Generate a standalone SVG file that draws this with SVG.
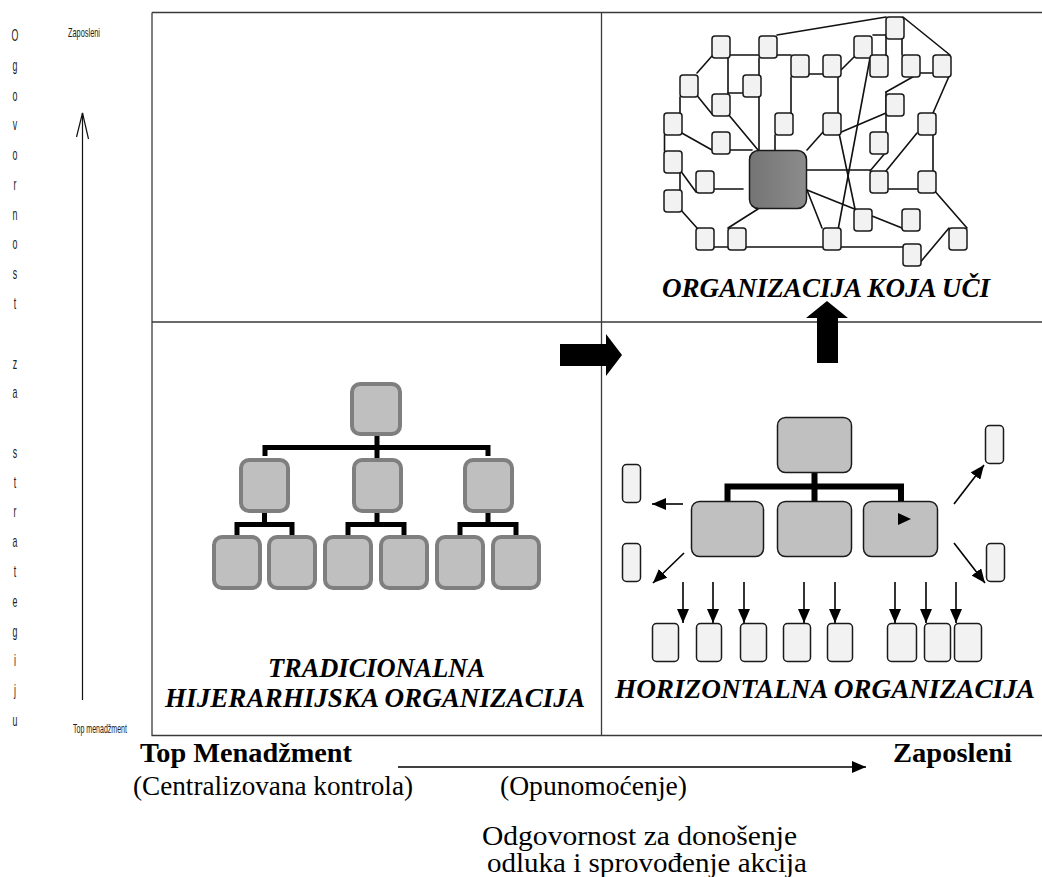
<svg xmlns="http://www.w3.org/2000/svg" width="1042" height="877" viewBox="0 0 1042 877">
  <defs>
    <marker id="ah" viewBox="0 0 10 10" refX="10" refY="5" markerWidth="14" markerHeight="12" preserveAspectRatio="none" markerUnits="userSpaceOnUse" orient="auto">
      <path d="M0,0 L10,5 L0,10 z" fill="#000"/>
    </marker>
    <linearGradient id="hubFill" x1="0" y1="0" x2="1" y2="0">
      <stop offset="0" stop-color="#747474"/>
      <stop offset="1" stop-color="#8c8c8c"/>
    </linearGradient>
    <style>
      .frame{fill:none;stroke:#3a3a3a;stroke-width:1.3}
      .net line{stroke:#111;stroke-width:1.6;stroke-linecap:round}
      .sn{fill:#f2f2f2;stroke:#1a1a1a;stroke-width:1.5}
      .hn{fill:#bfbfbf;stroke:#7f7f7f;stroke-width:4}
      .on{fill:#c0c0c0;stroke:#1a1a1a;stroke-width:1.5}
      .bracket{fill:none;stroke:#000;stroke-linejoin:miter}
      .arr{stroke:#000;stroke-width:1.6;fill:none}
      .title{font-family:"Liberation Serif","Times New Roman",serif;font-weight:bold;font-style:italic;font-size:27px;fill:#000}
      .axis{font-family:"Liberation Sans",Arial,sans-serif;fill:#222}
      .cap{font-family:"Liberation Serif","Times New Roman",serif;fill:#000;font-size:27px}
      .capb{font-weight:bold}
    </style>
  </defs>

  <rect width="1042" height="877" fill="#fff"/>

  <!-- quadrant frame -->
  <g id="frame" class="frame">
    <path d="M152,12.5 H1042 M152,12.5 V735.5 H1042 M152,322 H1042 M601.5,12.5 V735.5"/>
  </g>

  <!-- vertical axis -->
  <g id="axis-vertical">
    <g class="axis" font-size="16" text-anchor="middle" transform="translate(15,0) scale(0.55,1)">
      <text x="0" y="41">O</text>
      <text x="0" y="70.8">g</text>
      <text x="0" y="100.6">o</text>
      <text x="0" y="130.3">v</text>
      <text x="0" y="160.1">o</text>
      <text x="0" y="189.9">r</text>
      <text x="0" y="219.7">n</text>
      <text x="0" y="249.5">o</text>
      <text x="0" y="279.2">s</text>
      <text x="0" y="309">t</text>
      <text x="0" y="368.6">z</text>
      <text x="0" y="398.4">a</text>
      <text x="0" y="458">s</text>
      <text x="0" y="487.7">t</text>
      <text x="0" y="517.5">r</text>
      <text x="0" y="547.3">a</text>
      <text x="0" y="577">t</text>
      <text x="0" y="606.8">e</text>
      <text x="0" y="636.6">g</text>
      <text x="0" y="666.4">i</text>
      <text x="0" y="696.2">j</text>
      <text x="0" y="726">u</text>
    </g>
    <text class="axis" x="68" y="37" font-size="13" textLength="32" lengthAdjust="spacingAndGlyphs">Zaposleni</text>
    <text class="axis" x="73" y="733" font-size="13" textLength="54" lengthAdjust="spacingAndGlyphs">Top menadžment</text>
    <line x1="82.5" y1="700" x2="82.5" y2="113" stroke="#111" stroke-width="1.2"/>
    <polyline points="76.5,137 82.5,113 88.5,139" fill="none" stroke="#111" stroke-width="1.2"/>
  </g>

  <!-- learning organization network: connectors -->
  <g id="connectors" class="net">
    <line x1="777" y1="35" x2="886" y2="17"/>
    <line x1="903" y1="17" x2="950" y2="55"/>
    <line x1="886" y1="35" x2="886" y2="55"/>
    <line x1="873" y1="35" x2="886" y2="35"/>
    <line x1="902" y1="37" x2="902" y2="55"/>
    <line x1="918" y1="73" x2="933" y2="73"/>
    <line x1="918" y1="74" x2="886" y2="92"/>
    <line x1="886" y1="92" x2="886" y2="132"/>
    <line x1="886" y1="152" x2="870" y2="171"/>
    <line x1="917" y1="133" x2="886" y2="171"/>
    <line x1="933" y1="135" x2="933" y2="171"/>
    <line x1="885" y1="189" x2="918" y2="189"/>
    <line x1="933" y1="189" x2="967" y2="228"/>
    <line x1="949" y1="228" x2="918" y2="265"/>
    <line x1="838" y1="247" x2="903" y2="247"/>
    <line x1="807" y1="190" x2="902" y2="228"/>
    <line x1="870" y1="58" x2="838" y2="230"/>
    <line x1="839" y1="133" x2="855" y2="209"/>
    <line x1="839" y1="133" x2="886" y2="113"/>
    <line x1="838" y1="73" x2="854" y2="57"/>
    <line x1="838" y1="73" x2="838" y2="113"/>
    <line x1="807" y1="74" x2="823" y2="74"/>
    <line x1="791" y1="77" x2="791" y2="113"/>
    <line x1="728" y1="55" x2="791" y2="55"/>
    <line x1="728" y1="55" x2="728" y2="94"/>
    <line x1="728" y1="93" x2="743" y2="93"/>
    <line x1="759" y1="58" x2="759" y2="150"/>
    <line x1="775" y1="135" x2="775" y2="150"/>
    <line x1="697" y1="73" x2="712" y2="56"/>
    <line x1="680" y1="97" x2="680" y2="113"/>
    <line x1="695" y1="93" x2="712" y2="114"/>
    <line x1="728" y1="114" x2="758" y2="150"/>
    <line x1="680" y1="132" x2="712" y2="150"/>
    <line x1="728" y1="150" x2="752" y2="150"/>
    <line x1="664.5" y1="135" x2="664.5" y2="151"/>
    <line x1="680" y1="170" x2="696" y2="192"/>
    <line x1="680" y1="173" x2="680" y2="190"/>
    <line x1="712" y1="189" x2="743" y2="189"/>
    <line x1="680" y1="209" x2="697" y2="228"/>
    <line x1="712" y1="247" x2="728" y2="247"/>
    <line x1="743" y1="247" x2="823" y2="247"/>
    <line x1="758" y1="209" x2="728" y2="228"/>
    <line x1="807" y1="190" x2="822" y2="228"/>
    <line x1="807" y1="170" x2="870" y2="170"/>
    <line x1="807" y1="150" x2="823" y2="132"/>
    <line x1="950" y1="74" x2="933" y2="113"/>
  </g>

  <!-- learning organization network: nodes -->
  <g id="network-nodes">
    <rect id="n1" class="sn" x="712" y="36" width="18" height="22" rx="3"/>
    <rect id="n2" class="sn" x="759" y="36" width="18" height="22" rx="3"/>
    <rect id="n3" class="sn" x="886" y="17" width="18" height="22" rx="3"/>
    <rect id="n4" class="sn" x="854" y="36" width="18" height="22" rx="3"/>
    <rect id="n5" class="sn" x="791" y="55" width="18" height="22" rx="3"/>
    <rect id="n6" class="sn" x="823" y="55" width="18" height="22" rx="3"/>
    <rect id="n7" class="sn" x="870" y="55" width="18" height="22" rx="3"/>
    <rect id="n8" class="sn" x="902" y="55" width="18" height="22" rx="3"/>
    <rect id="n9" class="sn" x="933" y="55" width="18" height="22" rx="3"/>
    <rect id="n10" class="sn" x="680" y="75" width="18" height="22" rx="3"/>
    <rect id="n11" class="sn" x="743" y="75" width="18" height="22" rx="3"/>
    <rect id="n12" class="sn" x="712" y="94" width="18" height="22" rx="3"/>
    <rect id="n13" class="sn" x="886" y="94" width="18" height="22" rx="3"/>
    <rect id="n14" class="sn" x="664" y="113" width="18" height="22" rx="3"/>
    <rect id="n15" class="sn" x="775" y="113" width="18" height="22" rx="3"/>
    <rect id="n16" class="sn" x="823" y="113" width="18" height="22" rx="3"/>
    <rect id="n17" class="sn" x="918" y="113" width="18" height="22" rx="3"/>
    <rect id="n18" class="sn" x="712" y="132" width="18" height="22" rx="3"/>
    <rect id="n19" class="sn" x="870" y="132" width="18" height="22" rx="3"/>
    <rect id="n20" class="sn" x="664" y="151" width="18" height="22" rx="3"/>
    <rect id="n21" class="sn" x="696" y="171" width="18" height="22" rx="3"/>
    <rect id="n23" class="sn" x="870" y="171" width="18" height="22" rx="3"/>
    <rect id="n24" class="sn" x="918" y="171" width="18" height="22" rx="3"/>
    <rect id="n25" class="sn" x="664" y="190" width="18" height="22" rx="3"/>
    <rect id="n26" class="sn" x="854" y="209" width="18" height="22" rx="3"/>
    <rect id="n27" class="sn" x="902" y="209" width="18" height="22" rx="3"/>
    <rect id="n28" class="sn" x="696" y="228" width="18" height="22" rx="3"/>
    <rect id="n29" class="sn" x="728" y="228" width="18" height="22" rx="3"/>
    <rect id="n30" class="sn" x="823" y="228" width="18" height="22" rx="3"/>
    <rect id="n31" class="sn" x="949" y="228" width="18" height="22" rx="3"/>
    <rect id="n32" class="sn" x="903" y="244" width="18" height="22" rx="3"/>
    <rect id="hub" x="749.5" y="150.5" width="57" height="58" rx="9" fill="url(#hubFill)" stroke="#1a1a1a" stroke-width="1.5"/>
  </g>
  <text id="label-learning" class="title" x="662" y="297" textLength="328" lengthAdjust="spacingAndGlyphs">ORGANIZACIJA KOJA UČI</text>

  <!-- transition arrows -->
  <g id="arrow-right">
    <path d="M560,344 H606 V334 L622,355 L606,376 V366 H560 Z" fill="#000"/>
  </g>
  <g id="arrow-up">
    <path d="M817,363 V318 H806 L827,301 L848,318 H838 V363 Z" fill="#000"/>
  </g>

  <!-- traditional hierarchy -->
  <g id="hierarchy">
    <path class="bracket" stroke-width="5" d="M265,456 V447.5 H488 V456 M377,436 V458"/>
    <path class="bracket" stroke-width="5" d="M237,535 V524.5 H292 V535 M264.5,513 V524.5"/>
    <path class="bracket" stroke-width="5" d="M348,535 V524.5 H404 V535 M377,513 V524.5"/>
    <path class="bracket" stroke-width="5" d="M460,535 V524.5 H516 V535 M488,513 V524.5"/>
    <rect id="h-top" class="hn" x="352" y="384" width="48" height="50" rx="8" stroke="#888"/>
    <rect id="h-m1" class="hn" x="241" y="460" width="47" height="51" rx="8" fill="#cacaca"/>
    <rect id="h-m2" class="hn" x="354" y="460" width="47" height="51" rx="8"/>
    <rect id="h-m3" class="hn" x="465" y="460" width="47" height="51" rx="8" fill="#c4c4c4" stroke="#a2a2a2"/>
    <rect id="h-b1" class="hn" x="214" y="537" width="46" height="51" rx="8"/>
    <rect id="h-b2" class="hn" x="269" y="537" width="46" height="51" rx="8"/>
    <rect id="h-b3" class="hn" x="325" y="537" width="46" height="51" rx="8"/>
    <rect id="h-b4" class="hn" x="381" y="537" width="46" height="51" rx="8"/>
    <rect id="h-b5" class="hn" x="437" y="537" width="46" height="51" rx="8"/>
    <rect id="h-b6" class="hn" x="493" y="537" width="46" height="51" rx="8"/>
  </g>
  <text class="title" x="268" y="677" textLength="217" lengthAdjust="spacingAndGlyphs">TRADICIONALNA</text>
  <text class="title" x="165" y="707" textLength="420" lengthAdjust="spacingAndGlyphs">HIJERARHIJSKA ORGANIZACIJA</text>

  <!-- horizontal organization -->
  <g id="horizontal-org">
    <path class="bracket" stroke-width="6" d="M727.5,502 V486.5 H901 V502 M814.5,472 V502"/>
    <rect id="o-top" class="on" x="777.5" y="417.5" width="74" height="55" rx="8"/>
    <rect id="o-left" class="on" x="691.5" y="501.5" width="72" height="55" rx="8"/>
    <rect id="o-mid" class="on" x="777.5" y="501.5" width="74" height="55" rx="8"/>
    <rect id="o-right" class="on" x="863.5" y="501.5" width="74" height="55" rx="8"/>
    <path d="M898,513 L911,519 L898,525 Z" fill="#000"/>
    <rect class="sn" x="622.5" y="464.5" width="18" height="38" rx="4"/>
    <rect class="sn" x="622.5" y="543.5" width="18" height="38" rx="4"/>
    <rect class="sn" x="985.5" y="425.5" width="18" height="38" rx="4"/>
    <rect class="sn" x="986.5" y="543.5" width="18" height="38" rx="4"/>
    <rect class="sn" x="652.5" y="623.5" width="26" height="38" rx="4"/>
    <rect class="sn" x="696.5" y="623.5" width="25" height="38" rx="4"/>
    <rect class="sn" x="740.5" y="623.5" width="26" height="38" rx="4"/>
    <rect class="sn" x="783.5" y="623.5" width="27" height="38" rx="4"/>
    <rect class="sn" x="827.5" y="623.5" width="25" height="38" rx="4"/>
    <rect class="sn" x="887.5" y="623.5" width="29" height="38" rx="4"/>
    <rect class="sn" x="924.5" y="623.5" width="26" height="38" rx="4"/>
    <rect class="sn" x="954.5" y="623.5" width="27" height="38" rx="4"/>
  </g>
  <g id="horizontal-arrows" class="arr">
    <line x1="683" y1="504" x2="652" y2="504" marker-end="url(#ah)"/>
    <line x1="684" y1="553" x2="653" y2="583" marker-end="url(#ah)"/>
    <line x1="954" y1="504" x2="984" y2="465" marker-end="url(#ah)"/>
    <line x1="954" y1="543" x2="985" y2="583" marker-end="url(#ah)"/>
    <line x1="683" y1="582" x2="683" y2="623" marker-end="url(#ah)"/>
    <line x1="713" y1="582" x2="713" y2="623" marker-end="url(#ah)"/>
    <line x1="744" y1="582" x2="744" y2="623" marker-end="url(#ah)"/>
    <line x1="804" y1="582" x2="804" y2="623" marker-end="url(#ah)"/>
    <line x1="835" y1="582" x2="835" y2="623" marker-end="url(#ah)"/>
    <line x1="895" y1="582" x2="895" y2="623" marker-end="url(#ah)"/>
    <line x1="926" y1="582" x2="926" y2="623" marker-end="url(#ah)"/>
    <line x1="956" y1="582" x2="956" y2="623" marker-end="url(#ah)"/>
  </g>
  <text class="title" x="615" y="698" textLength="420" lengthAdjust="spacingAndGlyphs">HORIZONTALNA ORGANIZACIJA</text>

  <!-- horizontal axis -->
  <g id="axis-horizontal">
    <text class="cap capb" x="140" y="762" textLength="212" lengthAdjust="spacingAndGlyphs">Top Menadžment</text>
    <text class="cap capb" x="893" y="762" textLength="119" lengthAdjust="spacingAndGlyphs">Zaposleni</text>
    <line x1="398" y1="767" x2="866" y2="767" stroke="#000" stroke-width="1.6" marker-end="url(#ah)"/>
    <text class="cap" x="133" y="795" textLength="280" lengthAdjust="spacingAndGlyphs">(Centralizovana kontrola)</text>
    <text class="cap" x="500" y="795" textLength="187" lengthAdjust="spacingAndGlyphs">(Opunomoćenje)</text>
    <text class="cap" x="482" y="845" font-size="24" textLength="315" lengthAdjust="spacingAndGlyphs">Odgovornost za donošenje</text>
    <text class="cap" x="487" y="872" font-size="24" textLength="320" lengthAdjust="spacingAndGlyphs">odluka i sprovođenje akcija</text>
  </g>
</svg>
